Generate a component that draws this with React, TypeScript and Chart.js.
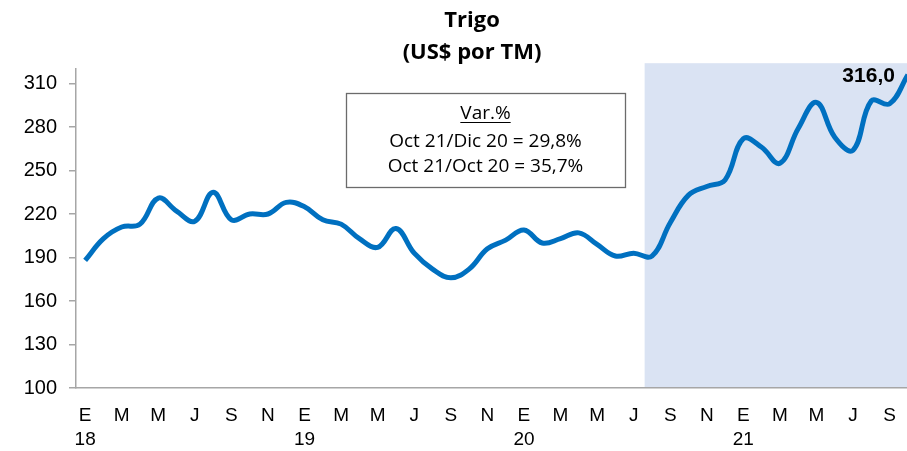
import { useEffect, useRef } from 'react';
import { Chart, registerables } from 'chart.js';

Chart.register(...registerables);

// ---- data ----
const monthLetters = ['E', 'F', 'M', 'A', 'M', 'J', 'J', 'A', 'S', 'O', 'N', 'D'];
const yearLabels = ['18', '19', '20', '21'];
// monthly wheat price, Jan 2018 .. Oct 2021 (US$ per TM)
const prices = [
  188, 203, 211, 213, 231, 222, 215, 235, 216, 220, 220, 228,
  225, 216, 213, 203, 197, 210, 193, 182, 176, 182, 196, 202,
  209, 200, 203, 207, 199, 191, 193, 191, 214, 233, 239, 243.5,
  272, 266, 255, 279, 297, 273, 264, 298, 296, 316,
];
const yTickValues = [100, 130, 160, 190, 220, 250, 280, 310];
const titleLines = ['Trigo', '(US$ por TM)'];
const boxLines = ['Var.%', 'Oct 21/Dic 20 = 29,8%', 'Oct 21/Oct 20 = 35,7%'];
const yMin = 100;
const yMax = 320;
const xMin = -0.5;
const xMax = 44.95;
const shadeStartIndex = 30.6;
const shadeTopValue = 324;

// category labels built from the month/year arrays
const categories: string[] = prices.map((_, i) => `${monthLetters[i % 12]} ${yearLabels[Math.floor(i / 12)]}`);
const tickIndices: number[] = categories.map((_, i) => i).filter((i) => i % 2 === 0);

const overlayPlugin = {
  id: 'overlay',
  beforeDraw(chart: any) {
    const { ctx } = chart;
    const xs = chart.scales.x;
    const ys = chart.scales.y;
    const x0 = xs.getPixelForValue(shadeStartIndex);
    const yTop = ys.getPixelForValue(shadeTopValue);
    ctx.save();
    ctx.fillStyle = '#dae3f3';
    ctx.fillRect(x0, yTop, chart.width - x0, ys.bottom - yTop);
    ctx.restore();
  },
  afterDatasetsDraw(chart: any) {
    const { ctx } = chart;
    ctx.save();
    // title
    ctx.fillStyle = '#000';
    ctx.font = 'bold 22px "Open Sans"';
    ctx.textAlign = 'center';
    ctx.textBaseline = 'alphabetic';
    ctx.fillText(titleLines[0], 472, 27);
    ctx.fillText(titleLines[1], 472, 59);

    // variation box
    ctx.fillStyle = '#ffffff';
    ctx.fillRect(346, 93, 279, 94);
    ctx.strokeStyle = '#6b6b6b';
    ctx.lineWidth = 1.3;
    ctx.strokeRect(346.5, 93.5, 279, 94);
    ctx.fillStyle = '#000';
    ctx.font = '19px "Open Sans"';
    const cx = 485.5;
    ctx.fillText(boxLines[0], cx, 119);
    const w = ctx.measureText(boxLines[0]).width;
    ctx.strokeStyle = '#000';
    ctx.lineWidth = 1.2;
    ctx.beginPath();
    ctx.moveTo(cx - w / 2, 122.5);
    ctx.lineTo(cx + w / 2, 122.5);
    ctx.stroke();
    ctx.fillText(boxLines[1], cx, 147);
    ctx.fillText(boxLines[2], cx, 172);

    // data label for last point
    const meta = chart.getDatasetMeta(0);
    const last = meta.data[meta.data.length - 1];
    const val = prices[prices.length - 1];
    ctx.font = 'bold 21px "Liberation Sans", Arial, sans-serif';
    ctx.textAlign = 'right';
    ctx.textBaseline = 'middle';
    ctx.fillText(val.toFixed(1).replace('.', ','), last.x - 13, last.y + 1);
    ctx.restore();
  },
};

export default function App() {
  const ref = useRef<HTMLCanvasElement | null>(null);

  useEffect(() => {
    if (!ref.current) return;
    const chart = new Chart(ref.current, {
      type: 'line',
      data: {
        datasets: [
          {
            label: 'Trigo',
            data: prices.map((v, i) => ({ x: i, y: v })),
            borderColor: '#0070C0',
            borderWidth: 5,
            pointRadius: 0,
            tension: 0.4,
            fill: false,
          },
        ],
      },
      options: {
        responsive: false,
        animation: false,
        devicePixelRatio: 1,
        layout: { padding: { top: 69, left: 0, right: 0, bottom: 0 } },
        plugins: {
          legend: { display: false },
          tooltip: { enabled: false },
          title: { display: false },
        },
        scales: {
          x: {
            type: 'linear',
            min: xMin,
            max: xMax,
            afterFit: (s: any) => {
              s.height = 63;
            },
            afterBuildTicks: (s: any) => {
              s.ticks = tickIndices.map((v) => ({ value: v }));
            },
            grid: { display: false, drawTicks: true, tickLength: 16 },
            border: { display: true, color: '#a6a6a6', width: 1.5 },
            ticks: {
              autoSkip: false,
              maxRotation: 0,
              minRotation: 0,
              padding: 0,
              color: '#000',
              font: { family: '"Liberation Sans", Arial, sans-serif', size: 19, lineHeight: 1.26 },
              callback: (v: any) => {
                const i = Math.round(Number(v));
                const m = monthLetters[i % 12];
                return i % 12 === 0 ? [m, yearLabels[Math.floor(i / 12)]] : [m, ''];
              },
            },
          },
          y: {
            min: yMin,
            max: yMax,
            afterFit: (s: any) => {
              s.width = 76;
            },
            afterBuildTicks: (s: any) => {
              s.ticks = yTickValues.map((v) => ({ value: v }));
            },
            grid: {
              drawOnChartArea: false,
              drawTicks: true,
              tickLength: 7,
              color: '#a6a6a6',
              lineWidth: 1.5,
            },
            border: { display: true, color: '#a6a6a6', width: 1.5 },
            ticks: {
              autoSkip: false,
              padding: 12,
              color: '#000',
              font: { family: '"Liberation Sans", Arial, sans-serif', size: 20 },
            },
          },
        },
      },
      plugins: [overlayPlugin],
    });
    return () => chart.destroy();
  }, []);

  return (
    <div style={{ position: 'absolute', left: 0, top: 0, width: 907, height: 451, background: '#fff' }}>
      <canvas ref={ref} width={907} height={451} style={{ width: 907, height: 451, display: 'block' }} />
    </div>
  );
}
